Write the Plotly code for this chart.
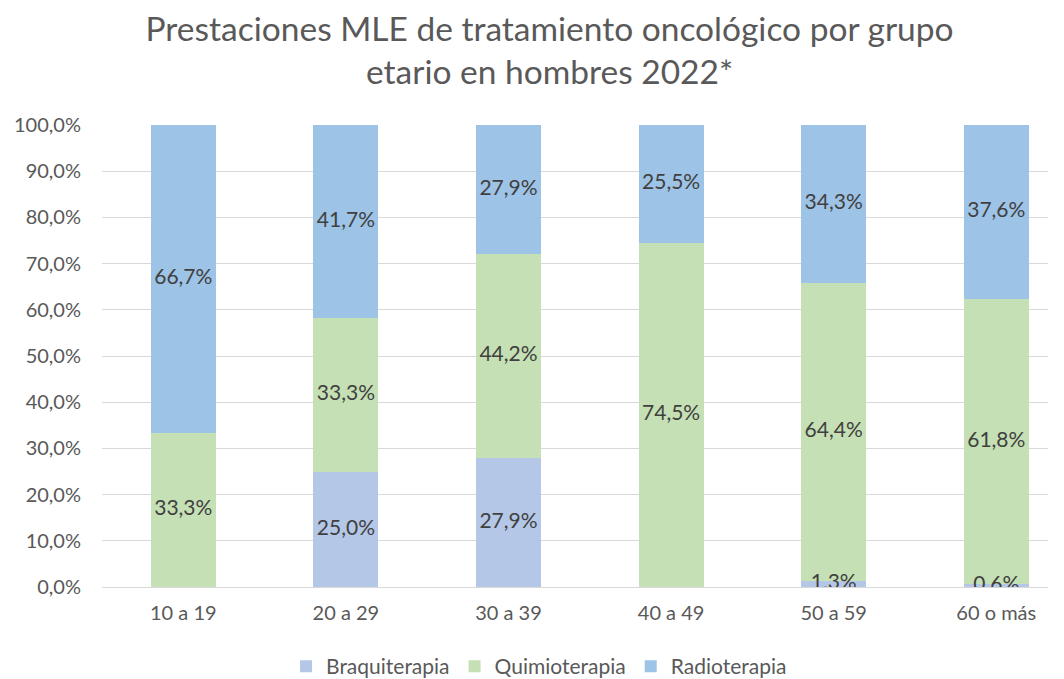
import plotly.graph_objects as go

grupos = ["10 a 19", "20 a 29", "30 a 39", "40 a 49", "50 a 59", "60 o más"]
braquiterapia = [0.0, 25.0, 27.9, 0.0, 1.3, 0.6]
quimioterapia = [33.3, 33.3, 44.2, 74.5, 64.4, 61.8]
radioterapia = [66.7, 41.7, 27.9, 25.5, 34.3, 37.6]

series = [
    ("Braquiterapia", braquiterapia, "#b4c7e7"),
    ("Quimioterapia", quimioterapia, "#c5e0b4"),
    ("Radioterapia", radioterapia, "#9dc3e6"),
]

fuente = "Lato"
gris = "#595959"

fig = go.Figure()
base = [0.0] * len(grupos)
lx, ly, lt = [], [], []
for nombre, valores, color in series:
    fig.add_trace(go.Bar(x=list(range(len(grupos))), y=[v / 100 for v in valores], name=nombre,
                         marker=dict(color=color, line=dict(width=0)), width=0.4))
    for i, v in enumerate(valores):
        if v > 0:
            lx.append(i)
            ly.append((base[i] + v / 2) / 100)
            lt.append(f"{v:.1f}%".replace(".", ","))
        base[i] += v

fig.add_trace(go.Scatter(x=lx, y=ly, text=lt, mode="text", showlegend=False, hoverinfo="skip",
                         textfont=dict(family=fuente, size=21, color="#404040")))

# the page body adds 8px, so margins are shifted to compensate
fig.update_layout(
    barmode="stack",
    separators=",.",
    width=1064, height=679,
    paper_bgcolor="white", plot_bgcolor="white",
    margin=dict(l=94, r=24, t=117, b=100),
    title=dict(text="Prestaciones MLE de tratamiento oncológico por grupo<br>etario en hombres 2022*",
               x=0.509, xanchor="center", y=0.952, yanchor="top",
               font=dict(family=fuente, size=33.5, color=gris)),
    font=dict(family=fuente, color=gris),
    legend=dict(orientation="h", x=0.462, xanchor="center", yref="container", y=0.03, yanchor="middle",
                font=dict(family=fuente, size=21, color=gris), itemwidth=30,
                traceorder="normal"),
    xaxis=dict(tickvals=list(range(len(grupos))), ticktext=grupos, range=[-0.5, 5.318],
               showgrid=False, showline=True, linecolor="#d9d9d9", linewidth=1,
               ticks="", ticklabelstandoff=8, automargin=False,
               tickfont=dict(family=fuente, size=20, color=gris)),
    yaxis=dict(range=[0, 1], tickvals=[i / 10 for i in range(11)], tickformat=".1%",
               showgrid=True, gridcolor="#d9d9d9", gridwidth=1, zeroline=False,
               ticks="", ticklabelstandoff=20, automargin=False,
               tickfont=dict(family=fuente, size=20, color=gris)),
)

fig.write_html("out.html")
